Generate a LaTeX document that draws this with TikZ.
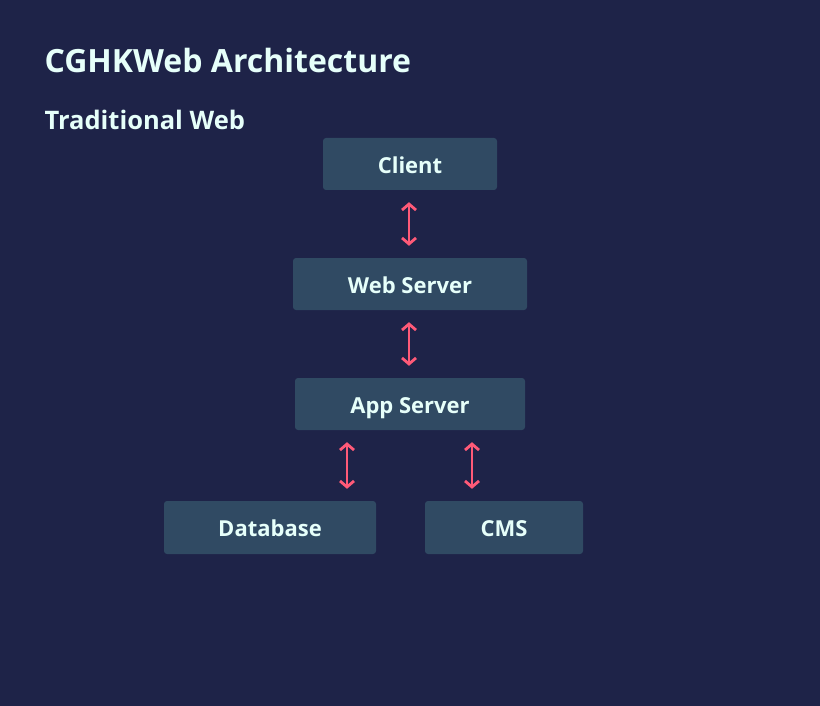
\documentclass[tikz,border=0pt]{standalone}
\usepackage{fontspec}
\setmainfont{Open Sans}
\usetikzlibrary{arrows.meta}
\definecolor{bgcol}{RGB}{30,35,72}
\definecolor{boxcol}{RGB}{48,74,99}
\definecolor{txtcol}{RGB}{230,255,250}
\definecolor{arrcol}{RGB}{255,90,120}
\tikzset{
  box/.style={fill=boxcol, rounded corners=3pt, minimum height=52pt, inner sep=0pt, text=txtcol, text height=18.5pt, text depth=0pt, font=\fontsize{22}{26}\selectfont\bfseries},
  link/.style={arrcol, line width=2.8pt, {Straight Barb[length=6pt,width=14pt]}-{Straight Barb[length=6pt,width=14pt]}, shorten <=12pt, shorten >=12pt}
}
\begin{document}
\begin{tikzpicture}[x=1pt, y=-1pt] % 1pt = 1px、y軸は下向き
  \fill[bgcol] (0,0) rectangle (820,706); % 背景
  \useasboundingbox (0,0) rectangle (820,706);

  \node[anchor=base west, text=txtcol, font=\fontsize{32}{36}\selectfont\bfseries] (title) at (41,73) {CGHKWeb Architecture}; % タイトル
  \node[anchor=base west, text=txtcol, font=\fontsize{25.5}{30}\selectfont\bfseries] (subtitle) at (41,130) {Traditional Web}; % 小見出し

  \node[box, minimum width=174pt] (client) at (410,164) {Client};
  \node[box, minimum width=234pt] (webserver) at (410,284) {Web Server};
  \node[box, minimum width=230pt] (appserver) at (410,404) {App Server};
  \node[box, minimum width=212pt, minimum height=53pt] (database) at (270,527.5) {Database};
  \node[box, minimum width=158pt, minimum height=53pt] (cms) at (504,527.5) {CMS};

  \draw[link] ([xshift=-1pt]client.south) -- ([xshift=-1pt]webserver.north); % 双方向矢印
  \draw[link] ([xshift=-1pt]webserver.south) -- ([xshift=-1pt]appserver.north);
  \draw[link] ([xshift=-63pt]appserver.south) -- ([xshift=-63pt]appserver.south |- database.north);
  \draw[link] ([xshift=62pt]appserver.south) -- ([xshift=62pt]appserver.south |- cms.north);
\end{tikzpicture}
\end{document}
